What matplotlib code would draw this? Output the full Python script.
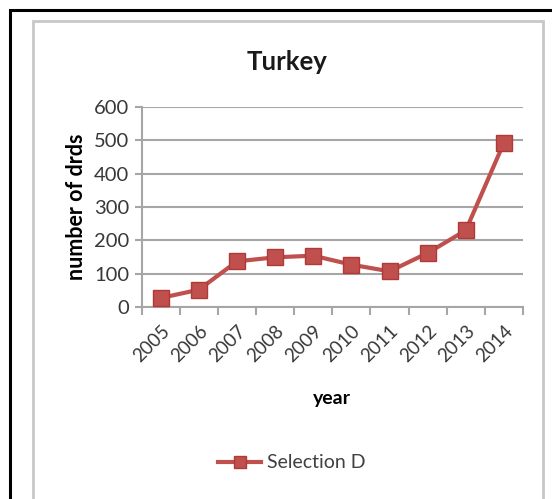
import matplotlib
matplotlib.use("Agg")
import matplotlib.pyplot as plt
from matplotlib.patches import Rectangle

# Yearly counts for Turkey
years = ["2005", "2006", "2007", "2008", "2009", "2010", "2011", "2012", "2013", "2014"]
counts = [27, 52, 137, 149, 154, 127, 107, 162, 230, 493]
series_name = "Selection D"

W, H = 552, 499
plt.rcParams["font.family"] = ["Lato", "DejaVu Sans"]

fig = plt.figure(figsize=(W / 100, H / 100), dpi=100)
fig.patch.set_facecolor("white")

def px_rect(x0, y0, x1, y1, **kw):
    # rectangle given in pixel coordinates (origin top-left)
    r = Rectangle((x0 / W, 1 - y1 / H), (x1 - x0) / W, (y1 - y0) / H,
                  transform=fig.transFigure, fill=False, **kw)
    fig.patches.append(r)

# outer black border and inner chart-area frame
px_rect(10, 10, 560, 510, edgecolor="black", linewidth=2.2)
px_rect(33, 21.5, 543, 500, edgecolor="#c8c8c8", linewidth=2.0)

ax = fig.add_axes([141.7 / W, 1 - 307 / H, (523 - 141.7) / W, (307 - 107) / H])
x = list(range(len(years)))
red = "#c0504d"
ax.plot(x, counts, color=red, linewidth=3, marker="s", markersize=11,
        markerfacecolor=red, markeredgecolor="#b03a37", markeredgewidth=1,
        label=series_name, zorder=3)

ax.set_xlim(-0.5, len(years) - 0.5)
ax.set_ylim(0, 600)
ax.set_yticks(range(0, 601, 100))
ax.yaxis.grid(True, color="#a6a6a6", linewidth=1.5)
ax.set_axisbelow(True)

for s in ["top", "right"]:
    ax.spines[s].set_visible(False)
for s in ["left", "bottom"]:
    ax.spines[s].set_color("#a6a6a6")
    ax.spines[s].set_linewidth(1.5)

ax.set_xticks([i - 0.5 for i in range(len(years) + 1)], minor=False)
ax.set_xticklabels([])
ax.set_xticks(x, minor=True)
ax.set_xticklabels(years, minor=True, rotation=45, ha="right", va="top",
                   rotation_mode="anchor", fontsize=13.5, color="#383838")
ax.tick_params(axis="x", which="major", length=6, width=1.5, color="#a6a6a6")
ax.tick_params(axis="x", which="minor", length=0, pad=11)
ax.tick_params(axis="y", length=5, width=1.5, color="#a6a6a6",
               labelsize=14.5, labelcolor="#383838", pad=4)

ax.set_ylabel("number of drds", fontsize=15.5, fontweight="bold", labelpad=5)
ax.set_xlabel("year", fontsize=14, fontweight="bold", labelpad=18)

fig.text(287 / W, 1 - 62 / H, "Turkey", ha="center", va="center",
         fontsize=18.5, fontweight="bold", color="#1a1a1a")

leg = fig.legend(loc="center", bbox_to_anchor=(292 / W, 1 - 463 / H),
                 frameon=False, fontsize=14, markerscale=0.8,
                 handlelength=2.2, handletextpad=0.3)
for t in leg.get_texts():
    t.set_color("#404040")

fig.savefig("out.png", dpi=100, facecolor="white")
